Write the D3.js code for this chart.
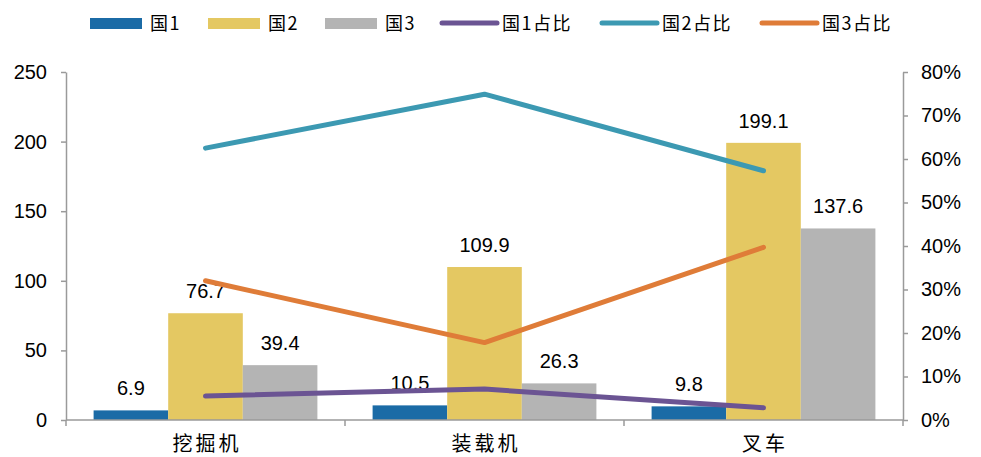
<!DOCTYPE html>
<meta charset="utf-8">
<script src="https://d3js.org/d3.v7.min.js"></script>
<html>
<style>
body { margin: 0; background: #fff; }
text { font-family: "Liberation Sans", Arial, sans-serif; }
.cjk { font-family: "Noto Sans CJK SC", sans-serif; }
</style>
<body>
<svg id="chart" width="981" height="457"></svg>
<script>

// categories and series
var categories = ["挖掘机", "装载机", "叉车"];
var barSeries = ["国1", "国2", "国3"];
var lineSeries = ["国1占比", "国2占比", "国3占比"];

// bar values (left axis)
var guo1 = [6.9, 10.5, 9.8];
var guo2 = [76.7, 109.9, 199.1];
var guo3 = [39.4, 26.3, 137.6];

// share values (right axis)
var guo1Share = [0.055, 0.071, 0.028];
var guo2Share = [0.625, 0.749, 0.573];
var guo3Share = [0.320, 0.178, 0.397];

var leftTicks = [0, 50, 100, 150, 200, 250];
var rightTicks = [0, 0.1, 0.2, 0.3, 0.4, 0.5, 0.6, 0.7, 0.8];

var barColors = ["#1b6ba6", "#e4c862", "#b4b4b4"];
var lineColors = ["#6b5493", "#3c99b2", "#df7c38"];

var svg = d3.select("svg");
var plotL = 66, plotR = 903, plotT = 72, plotB = 420;

var x0 = d3.scaleBand().domain(categories).range([plotL, plotR]);
var x1 = d3.scaleBand().domain(barSeries).range([0, x0.bandwidth()]).paddingOuter(0.37);
var y = d3.scaleLinear().domain([0, 250]).range([plotB, plotT]);
var y2 = d3.scaleLinear().domain([0, 0.8]).range([plotB, plotT]);

var barData = [guo1, guo2, guo3];
var lineData = [guo1Share, guo2Share, guo3Share];

// axes
var axisColor = "#9a9a9a";

var gl = svg.append("g")
  .attr("transform", "translate(" + plotL + ",0)")
  .call(d3.axisLeft(y).tickValues(leftTicks).tickSize(5).tickPadding(14).tickSizeOuter(0));
var gr = svg.append("g")
  .attr("transform", "translate(" + plotR + ",0)")
  .call(d3.axisRight(y2).tickValues(rightTicks).tickFormat(d3.format(".0%")).tickSize(5).tickPadding(13).tickSizeOuter(0));

[gl, gr].forEach(function(g) {
  g.select(".domain").attr("stroke", axisColor).attr("stroke-width", 1.5);
  g.selectAll(".tick line").attr("stroke", axisColor).attr("stroke-width", 1.5);
  g.selectAll(".tick text").attr("fill", "#000").style("font-size", "20px")
    .style("font-family", "'Liberation Sans', Arial, sans-serif");
});

// bars
categories.forEach(function(c, i) {
  barSeries.forEach(function(s, j) {
    var v = barData[j][i];
    svg.append("rect")
      .attr("x", x0(c) + x1(s))
      .attr("y", y(v))
      .attr("width", x1.bandwidth())
      .attr("height", y(0) - y(v))
      .attr("fill", barColors[j]);
    svg.append("text")
      .attr("x", x0(c) + x1(s) + x1.bandwidth() / 2)
      .attr("y", y(v) - 15)
      .attr("text-anchor", "middle")
      .style("font-size", "20px")
      .text(v.toFixed(1));
  });
});

// bottom axis
var gb = svg.append("g");
gb.append("line").attr("x1", plotL).attr("x2", plotR).attr("y1", plotB).attr("y2", plotB)
  .attr("stroke", axisColor).attr("stroke-width", 1.5);
var bounds = categories.map(function(c) { return x0(c); }).concat([plotR]);
gb.selectAll("line.tk").data(bounds).enter().append("line")
  .attr("class", "tk")
  .attr("x1", function(d) { return d; }).attr("x2", function(d) { return d; })
  .attr("y1", plotB).attr("y2", plotB + 6)
  .attr("stroke", axisColor).attr("stroke-width", 1.5);
gb.selectAll("text").data(categories).enter().append("text")
  .attr("class", "cjk")
  .attr("x", function(d) { return x0(d) + x0.bandwidth() / 2 + 1.5; })
  .attr("y", 451)
  .attr("text-anchor", "middle")
  .style("font-size", "20px")
  .style("letter-spacing", "3px")
  .text(function(d) { return d; });

// lines
var line = d3.line()
  .x(function(d, i) { return x0(categories[i]) + x0.bandwidth() / 2; })
  .y(function(d) { return y2(d); });

lineData.forEach(function(arr, j) {
  svg.append("path")
    .attr("d", line(arr))
    .attr("fill", "none")
    .attr("stroke", lineColors[j])
    .attr("stroke-width", 5)
    .attr("stroke-linecap", "round")
    .attr("stroke-linejoin", "round");
});

// legend
var lg = svg.append("g");
var barLegX = [90, 208, 325];
barSeries.forEach(function(s, j) {
  lg.append("rect").attr("x", barLegX[j]).attr("y", 18).attr("width", 52).attr("height", 11)
    .attr("fill", barColors[j]);
  lg.append("text").attr("class", "cjk").attr("x", barLegX[j] + 60).attr("y", 30)
    .style("font-size", "18px").style("letter-spacing", "1.5px").text(s);
});
var lineLegX = [442, 602, 762];
lineSeries.forEach(function(s, j) {
  lg.append("line").attr("x1", lineLegX[j]).attr("x2", lineLegX[j] + 55)
    .attr("y1", 23).attr("y2", 23)
    .attr("stroke", lineColors[j]).attr("stroke-width", 5).attr("stroke-linecap", "round");
  lg.append("text").attr("class", "cjk").attr("x", lineLegX[j] + 60).attr("y", 30)
    .style("font-size", "18px").style("letter-spacing", "1.5px").text(s);
});

</script>
</body>
</html>
